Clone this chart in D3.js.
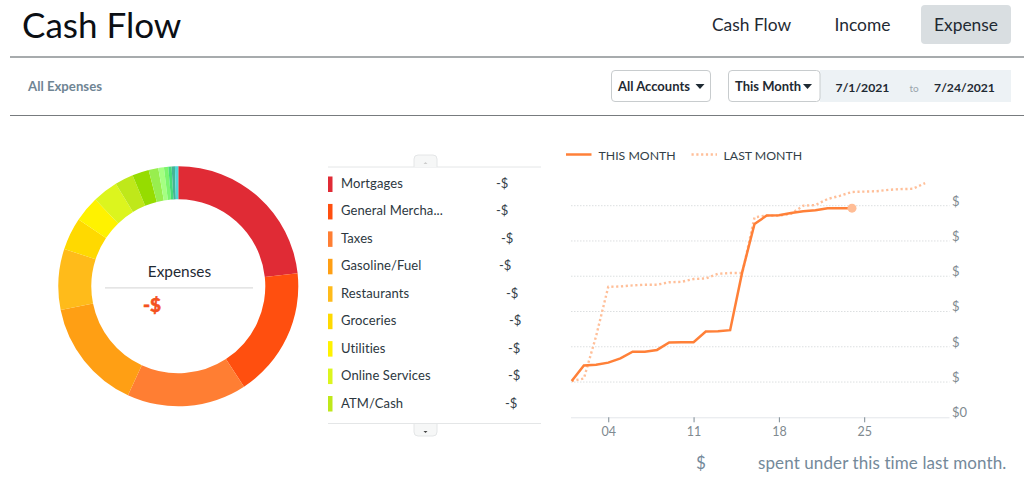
<!DOCTYPE html>
<html><head><meta charset="utf-8">
<script src="https://cdn.jsdelivr.net/npm/d3@7"></script>
<style>
html,body{margin:0;padding:0;background:#fff;overflow:hidden}
svg{display:block}
text{font-family:Lato,"Open Sans",sans-serif}
</style></head><body><svg id="c" width="1024" height="484"></svg>
<script>
const categories=["Mortgages","General Mercha...","Taxes","Gasoline/Fuel","Restaurants","Groceries","Utilities","Online Services","ATM/Cash","c10","c11","c12","c13","c14","c15","c16"];
const shares=[83.8,63,58,53.8,29.5,15.7,12.5,12.3,9,8.1,4.7,2.7,2.1,1.6,1.6,1.6];
const sliceColors=["#e02b35","#ff4f0f","#ff7e33","#ff9f14","#ffbb1a","#ffd900","#fff200","#dcf51e","#bfe81a","#96dc00","#98ee4e","#a5ff82","#7cf56d","#46dc78","#44b496","#4ed8d8"];
const legendValues=["-$","-$","-$","-$","-$","-$","-$","-$","-$"];
const legendValueOffsets=[155,155,160,158,165,168,167,167,164];
const days=d3.range(1,25);
const thisMonth=[1.03,1.47,1.49,1.55,1.67,1.86,1.86,1.91,2.12,2.13,2.13,2.43,2.44,2.47,4.13,5.48,5.72,5.73,5.79,5.84,5.87,5.93,5.93,5.93];
const lastDays=d3.range(1,31);
const lastMonth=[1.03,1.10,2.3,3.7,3.71,3.74,3.76,3.76,3.83,3.84,3.92,3.94,4.07,4.09,4.09,5.67,5.72,5.72,5.77,6.0,6.02,6.19,6.28,6.39,6.4,6.41,6.45,6.47,6.48,6.64];
const yTicks=[0,1,2,3,4,5,6];
const yLabels=["$0","$","$","$","$","$","$"];
const xTicks=[4,11,18,25];
const xLabels=["04","11","18","25"];

const svg=d3.select("#c");
const ink="#1f2a33";
function T(x,y,s,size,fill,anchor,weight,font){
  const t=svg.append("text").attr("x",x).attr("y",y).text(s).attr("font-size",size).attr("fill",fill);
  if(anchor)t.attr("text-anchor",anchor);
  if(weight)t.attr("font-weight",weight);
  if(font)t.attr("font-family",font);
  return t;
}
function HL(x1,x2,y,c,w){svg.append("line").attr("x1",x1).attr("x2",x2).attr("y1",y).attr("y2",y).attr("stroke",c).attr("stroke-width",w);}
// header
T(22,38,"Cash Flow",35,"#0b0f14");
T(751.5,31,"Cash Flow",17.4,ink,"middle");
T(862.5,31,"Income",17.4,ink,"middle");
svg.append("rect").attr("x",921).attr("y",5).attr("width",90).attr("height",39).attr("rx",4).attr("fill","#d9dee1");
T(966,31,"Expense",17.4,ink,"middle");
HL(10,1024,57,"#8a8f92",1.3);
HL(10,1024,115.5,"#777b7e",1.2);
T(28,91,"All Expenses",13.2,"#6f8594",null,700);
function btn(x,w,label,size,ax){
  svg.append("rect").attr("x",x+.5).attr("y",70.5).attr("width",w).attr("height",31).attr("rx",3.5).attr("fill","#fff").attr("stroke","#c8ccce");
  T(x+7,91,label,size,ink,null,700);
  svg.append("path").attr("d",`M${ax-4.5},84 h9 l-4.5,5 z`).attr("fill",ink);
}
svg.append("rect").attr("x",820).attr("y",70).attr("width",191).attr("height",32).attr("fill","#edf2f5");
btn(611,99,"All Accounts",13,700);
btn(728,91.5,"This Month",13,807.5);
T(862.5,92,"7/1/2021",12.2,ink,"middle",700);
T(914,92,"to",10,"#9aa5ac","middle");
T(964.5,92,"7/24/2021",12.2,ink,"middle",700);

// donut
const cx=178.3,cy=286.3;
const pie=d3.pie().sort(null).value(d=>d);
const arc=d3.arc().innerRadius(87).outerRadius(120);
svg.append("g").attr("transform",`translate(${cx},${cy})`).selectAll("path").data(pie(shares)).join("path")
  .attr("d",arc).attr("fill",(d,i)=>sliceColors[i]);
T(179.5,277,"Expenses",15.4,ink,"middle");
HL(105,253,287.8,"#dcdcdc",1.2);
T(152,311.5,"-$",19,"#f4511e","middle",900).attr("stroke","#f4511e").attr("stroke-width",0.5);

// legend
HL(328,541,167,"#e4e6e7",1);
HL(328,541,423.5,"#e4e6e7",1);
svg.append("path").attr("d","M414,167 v-8 a4,4 0 0 1 4,-4 h15 a4,4 0 0 1 4,4 v8").attr("fill","#f6f7f7").attr("stroke","#e4e6e7");
svg.append("path").attr("d","M414,424 v8 a4,4 0 0 0 4,4 h15 a4,4 0 0 0 4,-4 v-8").attr("fill","#f6f7f7").attr("stroke","#e4e6e7");
svg.append("path").attr("d","M423.5,431 h4 l-2,2 z").attr("fill","#444");
svg.append("path").attr("d","M423.5,164 h4 l-2,-2 z").attr("fill","#ccc");
const rowY=d3.scalePoint().domain(d3.range(9)).range([184,403.5]);
legendValues.forEach((v,i)=>{
  const yy=rowY(i);
  svg.append("rect").attr("x",328).attr("y",yy-7.5).attr("width",4.5).attr("height",15.5).attr("fill",sliceColors[i]);
  T(341,yy+4,categories[i],13,"#2c3740").style("letter-spacing","0.1px");
  T(341+legendValueOffsets[i],yy+4,v,13,"#333f48");
});

// line chart
const x=d3.scaleLinear().domain([1,32]).range([571.7,949.5]);
const y=d3.scaleLinear().domain([0,6]).range([417.3,205.7]);
svg.append("g").selectAll("line").data(yTicks.slice(1)).join("line")
  .attr("x1",571).attr("x2",949.5).attr("y1",d=>y(d)).attr("y2",d=>y(d))
  .attr("stroke","#dcdfe0").attr("stroke-dasharray","1.5,1.5");
const axB=svg.append("g").attr("transform",`translate(0,${y(0)})`)
  .call(d3.axisBottom(x).tickValues(xTicks).tickFormat((d,i)=>xLabels[i]).tickSize(5).tickPadding(5));
axB.select(".domain").attr("stroke","#e3e6ea").attr("d",`M571,0.5H949.5`);
axB.selectAll(".tick line").attr("stroke","#7d8a93");
axB.selectAll("text").attr("font-size",12.5).attr("fill","#808a90").attr("font-family","Lato");
const axR=svg.append("g").attr("transform","translate(952,0)")
  .call(d3.axisRight(y).tickValues(yTicks).tickFormat((d,i)=>yLabels[i]).tickSize(0).tickPadding(0));
axR.select(".domain").remove();
axR.selectAll("text").attr("font-size",13).attr("fill","#808a90").attr("font-family","Lato").attr("dy","-0.05em");
const line=d3.line();
const lastPts=lastDays.map((d,i)=>[x(d),y(lastMonth[i])]);
const thisPts=days.map((d,i)=>[x(d),y(thisMonth[i])]);
svg.append("path").attr("d",line(lastPts)).attr("fill","none").attr("stroke","#ffbf99").attr("stroke-width",2.4).attr("stroke-dasharray","2.2,2.6");
svg.append("path").attr("d",line(thisPts)).attr("fill","none").attr("stroke","#ff8038").attr("stroke-width",2.5);
svg.append("circle").attr("cx",x(24)).attr("cy",y(5.93)).attr("r",4.5).attr("fill","#ffbd96");
// legend
svg.append("line").attr("x1",566).attr("x2",591.5).attr("y1",154.5).attr("y2",154.5).attr("stroke","#ff8038").attr("stroke-width",2.5);
T(598.5,159.5,"THIS MONTH",12.3,"#333f48");
svg.append("line").attr("x1",691.5).attr("x2",717).attr("y1",154.5).attr("y2",154.5).attr("stroke","#ffbf99").attr("stroke-width",2.4).attr("stroke-dasharray","2.2,2.6");
T(723.5,159.5,"LAST MONTH",12.3,"#333f48");
// footer
T(696,469,"$",17,"#74899a");
T(758,469,"spent under this time last month.",17,"#74899a").style("letter-spacing","0.1px");
</script></body></html>
